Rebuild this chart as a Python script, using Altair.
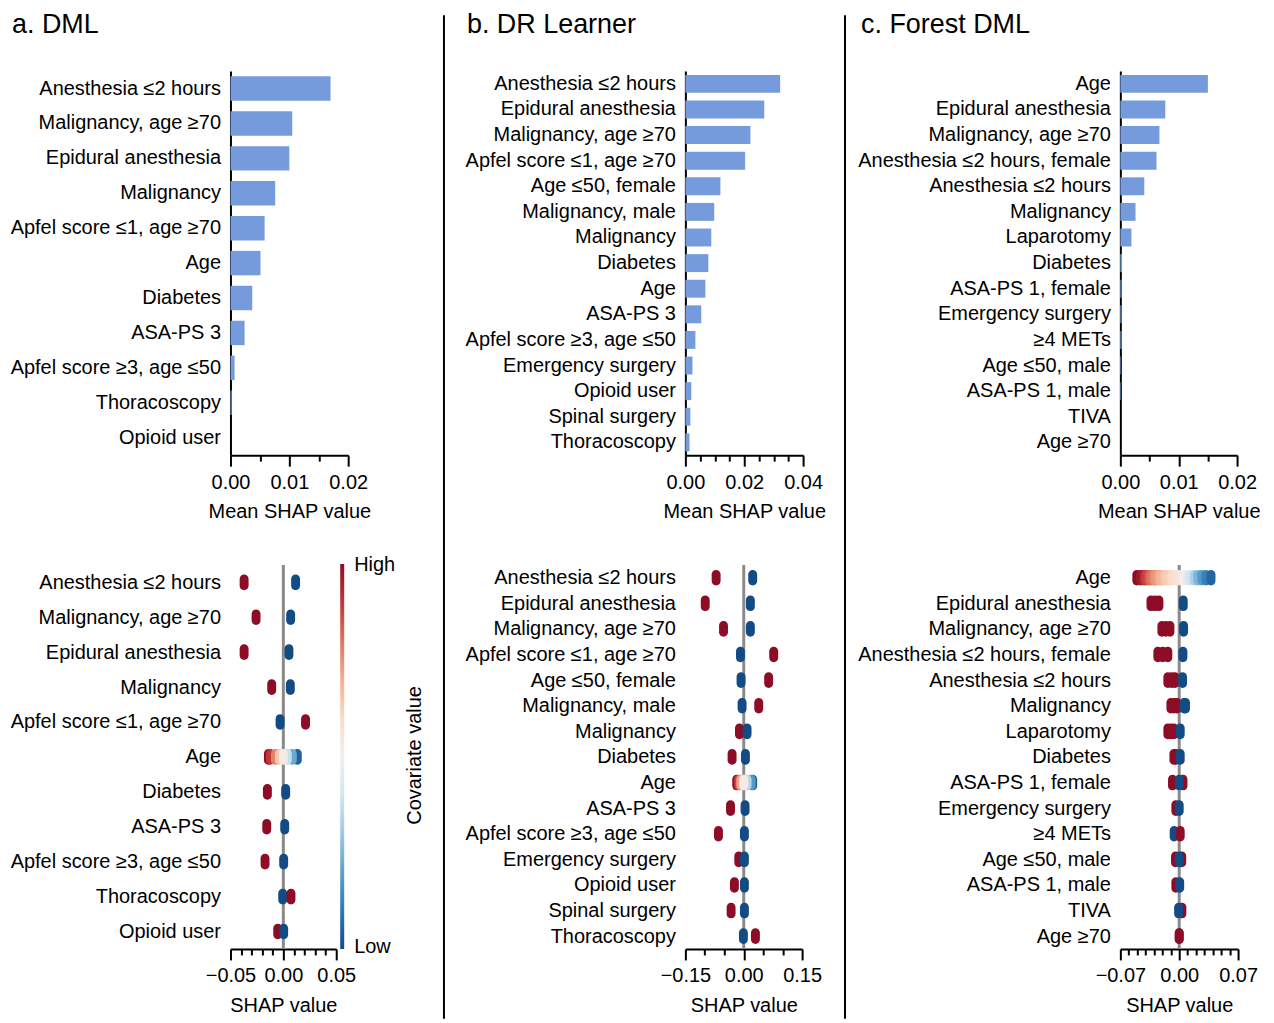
import altair as alt
import pandas as pd

FONT = "Liberation Sans"
BAR_COLOR = "#759BDC"
ZERO_COLOR = "#8a8a8a"

# ---------------- panel a : DML ----------------
features_a = ["Anesthesia ≤2 hours", "Malignancy, age ≥70", "Epidural anesthesia", "Malignancy",
              "Apfel score ≤1, age ≥70", "Age", "Diabetes", "ASA-PS 3", "Apfel score ≥3, age ≤50",
              "Thoracoscopy", "Opioid user"]
mean_shap_a = [0.0170, 0.0105, 0.0100, 0.0076, 0.0058, 0.0051, 0.0037, 0.0024, 0.0007, 0.0002, 0.0]
# (feature, SHAP value, covariate value 0=low 1=high) in drawing order
points_a = [
    ("Anesthesia ≤2 hours", 0.0116, 0.0), ("Anesthesia ≤2 hours", -0.0371, 1.0),
    ("Malignancy, age ≥70", 0.0069, 0.0), ("Malignancy, age ≥70", -0.0258, 1.0),
    ("Epidural anesthesia", 0.0053, 0.0), ("Epidural anesthesia", -0.0371, 1.0),
    ("Malignancy", 0.0066, 0.0), ("Malignancy", -0.0110, 1.0),
    ("Apfel score ≤1, age ≥70", -0.0031, 0.0), ("Apfel score ≤1, age ≥70", 0.0210, 1.0),
    ("Age", -0.0141, 1.0), ("Age", -0.0123, 0.9), ("Age", -0.0075, 0.78), ("Age", -0.0038, 0.65),
    ("Age", 0.0132, 0.05), ("Age", 0.0085, 0.22), ("Age", 0.0038, 0.38), ("Age", 0.0, 0.52),
    ("Diabetes", 0.0022, 0.0), ("Diabetes", -0.0151, 1.0),
    ("ASA-PS 3", 0.0013, 0.0), ("ASA-PS 3", -0.0157, 1.0),
    ("Apfel score ≥3, age ≤50", 0.0003, 0.0), ("Apfel score ≥3, age ≤50", -0.0173, 1.0),
    ("Thoracoscopy", -0.0006, 0.0), ("Thoracoscopy", 0.0072, 1.0),
    ("Opioid user", -0.0053, 1.0), ("Opioid user", 0.0003, 0.0),
]

# ---------------- panel b : DR Learner ----------------
features_b = ["Anesthesia ≤2 hours", "Epidural anesthesia", "Malignancy, age ≥70", "Apfel score ≤1, age ≥70",
              "Age ≤50, female", "Malignancy, male", "Malignancy", "Diabetes", "Age", "ASA-PS 3",
              "Apfel score ≥3, age ≤50", "Emergency surgery", "Opioid user", "Spinal surgery", "Thoracoscopy"]
mean_shap_b = [0.0322, 0.0268, 0.0221, 0.0203, 0.0119, 0.0098, 0.0088, 0.0078, 0.0068, 0.0054,
               0.0034, 0.0024, 0.0020, 0.0017, 0.0014]
points_b = [
    ("Anesthesia ≤2 hours", 0.023, 0.0), ("Anesthesia ≤2 hours", -0.071, 1.0),
    ("Epidural anesthesia", 0.017, 0.0), ("Epidural anesthesia", -0.099, 1.0),
    ("Malignancy, age ≥70", 0.017, 0.0), ("Malignancy, age ≥70", -0.052, 1.0),
    ("Apfel score ≤1, age ≥70", -0.0085, 0.0), ("Apfel score ≤1, age ≥70", 0.077, 1.0),
    ("Age ≤50, female", -0.007, 0.0), ("Age ≤50, female", 0.064, 1.0),
    ("Malignancy, male", -0.0043, 0.0), ("Malignancy, male", 0.0385, 1.0),
    ("Malignancy", -0.011, 1.0), ("Malignancy", 0.0085, 0.0),
    ("Diabetes", -0.030, 1.0), ("Diabetes", 0.0043, 0.0),
    ("Age", 0.023, 0.05), ("Age", 0.019, 0.18), ("Age", 0.0085, 0.35),
    ("Age", -0.018, 1.0), ("Age", -0.013, 0.88), ("Age", -0.0077, 0.72), ("Age", 0.0, 0.52),
    ("ASA-PS 3", -0.034, 1.0), ("ASA-PS 3", 0.0034, 0.0),
    ("Apfel score ≥3, age ≤50", -0.065, 1.0), ("Apfel score ≥3, age ≤50", 0.0017, 0.0),
    ("Emergency surgery", -0.0128, 1.0), ("Emergency surgery", 0.0017, 0.0),
    ("Opioid user", -0.024, 1.0), ("Opioid user", 0.0017, 0.0),
    ("Spinal surgery", -0.0325, 1.0), ("Spinal surgery", 0.0017, 0.0),
    ("Thoracoscopy", -0.0009, 0.0), ("Thoracoscopy", 0.030, 1.0),
]

# ---------------- panel c : Forest DML ----------------
features_c = ["Age", "Epidural anesthesia", "Malignancy, age ≥70", "Anesthesia ≤2 hours, female",
              "Anesthesia ≤2 hours", "Malignancy", "Laparotomy", "Diabetes", "ASA-PS 1, female",
              "Emergency surgery", "≥4 METs", "Age ≤50, male", "ASA-PS 1, male", "TIVA", "Age ≥70"]
mean_shap_c = [0.0150, 0.0077, 0.0067, 0.0062, 0.0041, 0.0026, 0.0019, 0.0003, 0.0002, 0.0002,
               0.0002, 0.0001, 0.0001, 0.0, 0.0]
points_c = [
    ("Age", -0.0504, 1.0), ("Age", -0.0460, 0.97), ("Age", -0.0420, 0.93), ("Age", -0.0397, 0.88),
    ("Age", -0.0360, 0.84), ("Age", -0.0337, 0.80), ("Age", -0.0300, 0.76), ("Age", -0.0278, 0.74),
    ("Age", -0.0240, 0.71), ("Age", -0.0218, 0.68), ("Age", -0.0170, 0.65), ("Age", -0.0135, 0.63),
    ("Age", -0.0087, 0.60), ("Age", -0.0040, 0.57), ("Age", 0.0, 0.55), ("Age", 0.0056, 0.50),
    ("Age", 0.0100, 0.44), ("Age", 0.0139, 0.40), ("Age", 0.0180, 0.33), ("Age", 0.0220, 0.25),
    ("Age", 0.0270, 0.18), ("Age", 0.0318, 0.12), ("Age", 0.0378, 0.06),
    ("Epidural anesthesia", -0.0336, 1.0), ("Epidural anesthesia", -0.0290, 1.0),
    ("Epidural anesthesia", -0.0241, 1.0), ("Epidural anesthesia", 0.0048, 0.0),
    ("Malignancy, age ≥70", -0.0206, 1.0), ("Malignancy, age ≥70", -0.0160, 1.0),
    ("Malignancy, age ≥70", -0.0110, 1.0), ("Malignancy, age ≥70", 0.0052, 0.0),
    ("Anesthesia ≤2 hours, female", -0.0254, 1.0), ("Anesthesia ≤2 hours, female", -0.0195, 1.0),
    ("Anesthesia ≤2 hours, female", -0.0135, 1.0), ("Anesthesia ≤2 hours, female", 0.0044, 0.0),
    ("Anesthesia ≤2 hours", -0.0135, 1.0), ("Anesthesia ≤2 hours", -0.0090, 1.0),
    ("Anesthesia ≤2 hours", -0.0051, 1.0), ("Anesthesia ≤2 hours", 0.0040, 0.0),
    ("Malignancy", -0.0099, 1.0), ("Malignancy", -0.0060, 1.0), ("Malignancy", -0.0027, 1.0),
    ("Malignancy", 0.0058, 0.0), ("Malignancy", 0.0075, 0.0),
    ("Laparotomy", -0.0135, 1.0), ("Laparotomy", -0.0100, 1.0), ("Laparotomy", -0.0063, 1.0),
    ("Laparotomy", 0.0012, 0.0),
    ("Diabetes", -0.0063, 1.0), ("Diabetes", -0.0040, 1.0), ("Diabetes", 0.0012, 0.0),
    ("ASA-PS 1, female", -0.0080, 1.0), ("ASA-PS 1, female", 0.0045, 1.0), ("ASA-PS 1, female", 0.0, 0.0),
    ("Emergency surgery", -0.0040, 1.0), ("Emergency surgery", 0.0, 0.0),
    ("≥4 METs", -0.0060, 0.0), ("≥4 METs", 0.0012, 1.0),
    ("Age ≤50, male", -0.0044, 1.0), ("Age ≤50, male", 0.0030, 1.0), ("Age ≤50, male", 0.0, 0.0),
    ("ASA-PS 1, male", -0.0040, 1.0), ("ASA-PS 1, male", 0.0006, 0.0),
    ("TIVA", 0.0032, 1.0), ("TIVA", -0.0007, 0.0),
    ("Age ≥70", 0.0, 0.0), ("Age ≥70", 0.0, 1.0),
]

# ---------------- axes ----------------
bar_ticks_a = [0.0, 0.005, 0.01, 0.015, 0.02]
bar_ticks_b = [0.0, 0.005, 0.01, 0.015, 0.02, 0.025, 0.03, 0.035, 0.04]
bar_ticks_c = [0.0, 0.005, 0.01, 0.015, 0.02]
shap_ticks_a = [-0.05, -0.04, -0.03, -0.02, -0.01, 0.0, 0.01, 0.02, 0.03, 0.04, 0.05]
shap_ticks_b = [-0.15, -0.10, -0.05, 0.0, 0.05, 0.10, 0.15]
shap_ticks_c = [-0.07, -0.06, -0.05, -0.04, -0.03, -0.02, -0.01, 0.0,
                0.01, 0.02, 0.03, 0.04, 0.05, 0.06, 0.07]
titles = ["a. DML", "b. DR Learner", "c. Forest DML"]
legend_title = "Covariate value"
legend_values = [0.004, 0.996]

CAPSULE = "M -1 -0.75 A 1 1 0 0 1 1 -0.75 L 1 0.75 A 1 1 0 0 1 -1 0.75 Z"
PLOT_H = 385


def x_axis(title, ticks, major):
    test = f"abs(datum.value / {major} - round(datum.value / {major})) < 1e-6"
    return alt.Axis(
        title=title, values=ticks,
        labelExpr=f"{test} ? format(datum.value, '.2f') : ''",
        tickSize={"condition": {"test": test, "value": 11}, "value": 6},
        labelPadding=6, titlePadding=10, grid=False, labelFlush=False,
        labelOverlap=False, labelBound=False,
    )


def bar_chart(features, values, ticks, major, width):
    df = pd.DataFrame({"feature": features, "value": values})
    return alt.Chart(df).mark_bar(color=BAR_COLOR).encode(
        x=alt.X("value:Q", scale=alt.Scale(domain=[ticks[0], ticks[-1]], nice=False),
                axis=x_axis("Mean SHAP value", ticks, major)),
        y=alt.Y("feature:N", sort=features,
                scale=alt.Scale(paddingInner=0.3, paddingOuter=0.15),
                axis=alt.Axis(title=None, ticks=False, domain=True, labelLimit=400, labelPadding=10)),
    ).properties(width=width, height=PLOT_H)


def bee_chart(features, points, ticks, major, width, legend):
    df = pd.DataFrame(points, columns=["feature", "shap", "cov"])
    df["ord"] = range(len(df))
    xscale = alt.Scale(domain=[ticks[0], ticks[-1]], nice=False)
    zero = alt.Chart(pd.DataFrame({"z": [0.0]})).mark_rule(color=ZERO_COLOR, strokeWidth=3).encode(
        x=alt.X("z:Q", scale=xscale, axis=x_axis("SHAP value", ticks, major)),
    )
    if legend:
        leg = alt.Legend(
            orient="none", legendX=110, legendY=-1, direction="vertical",
            gradientLength=386, gradientThickness=4, values=legend_values,
            labelExpr="datum.value > 0.5 ? 'High' : 'Low'",
            title=None, labelBaseline="middle",
            labelOffset=10, padding=0, labelFontSize=20,
            labelFont=FONT, labelColor="black",
        )
    else:
        leg = None
    pts = alt.Chart(df).mark_point(filled=True, shape=CAPSULE, size=80, opacity=1).encode(
        x=alt.X("shap:Q", scale=xscale, axis=x_axis("SHAP value", ticks, major)),
        y=alt.Y("feature:N", sort=features,
                axis=alt.Axis(title=None, ticks=False, domain=False, labelLimit=400, labelPadding=10)),
        color=alt.Color("cov:Q", scale=alt.Scale(scheme="redblue", reverse=True, domain=[0, 1]),
                        legend=leg),
        order=alt.Order("ord:Q"),
    )
    layers = [zero, pts]
    if legend:
        cap = alt.Chart(pd.DataFrame({"t": [legend_title]})).mark_text(
            angle=270, fontSize=20, font=FONT, color="black", baseline="middle", align="center",
        ).encode(text="t:N", x=alt.value(185), y=alt.value(191))
        layers.append(cap)
    return alt.layer(*layers).properties(width=width, height=PLOT_H)


def column(title, dx, top, bottom):
    return alt.vconcat(
        top, bottom, spacing=110, bounds="flush",
        title=alt.TitleParams(title, anchor="start", frame="group", dx=dx, fontSize=27,
                              fontWeight="normal", font=FONT, color="black", offset=32),
    ).resolve_scale(color="independent")


# the separator panels also carry the width of the column before them
def separator(width, xpos):
    return alt.Chart(pd.DataFrame({"s": [0]})).mark_rule(color="black", strokeWidth=2).encode(
        x=alt.value(xpos), y=alt.value(-56), y2=alt.value(950),
    ).properties(width=width, height=881)


col_a = column(titles[0], -219,
               bar_chart(features_a, mean_shap_a, bar_ticks_a, 0.01, 118),
               bee_chart(features_a, points_a, shap_ticks_a, 0.05, 106, True))
col_b = column(titles[1], -219,
               bar_chart(features_b, mean_shap_b, bar_ticks_b, 0.02, 118),
               bee_chart(features_b, points_b, shap_ticks_b, 0.15, 117, False))
col_c = column(titles[2], -260,
               bar_chart(features_c, mean_shap_c, bar_ticks_c, 0.01, 117),
               bee_chart(features_c, points_c, shap_ticks_c, 0.07, 118, False))

chart = alt.hconcat(
    col_a, separator(456, 214), col_b, separator(436, 160), col_c,
    spacing=0, bounds="flush",
).resolve_scale(color="independent").properties(
    padding={"left": 2, "top": 2, "right": 5, "bottom": 2}
).configure_view(stroke=None).configure_axis(
    labelFont=FONT, titleFont=FONT, labelFontSize=20, titleFontSize=20,
    labelColor="black", titleColor="black", domainColor="black", tickColor="black",
    domainWidth=2, tickWidth=2, titleFontWeight="normal",
)

chart.save("out.html", embed_options={"renderer": "svg", "actions": False})
